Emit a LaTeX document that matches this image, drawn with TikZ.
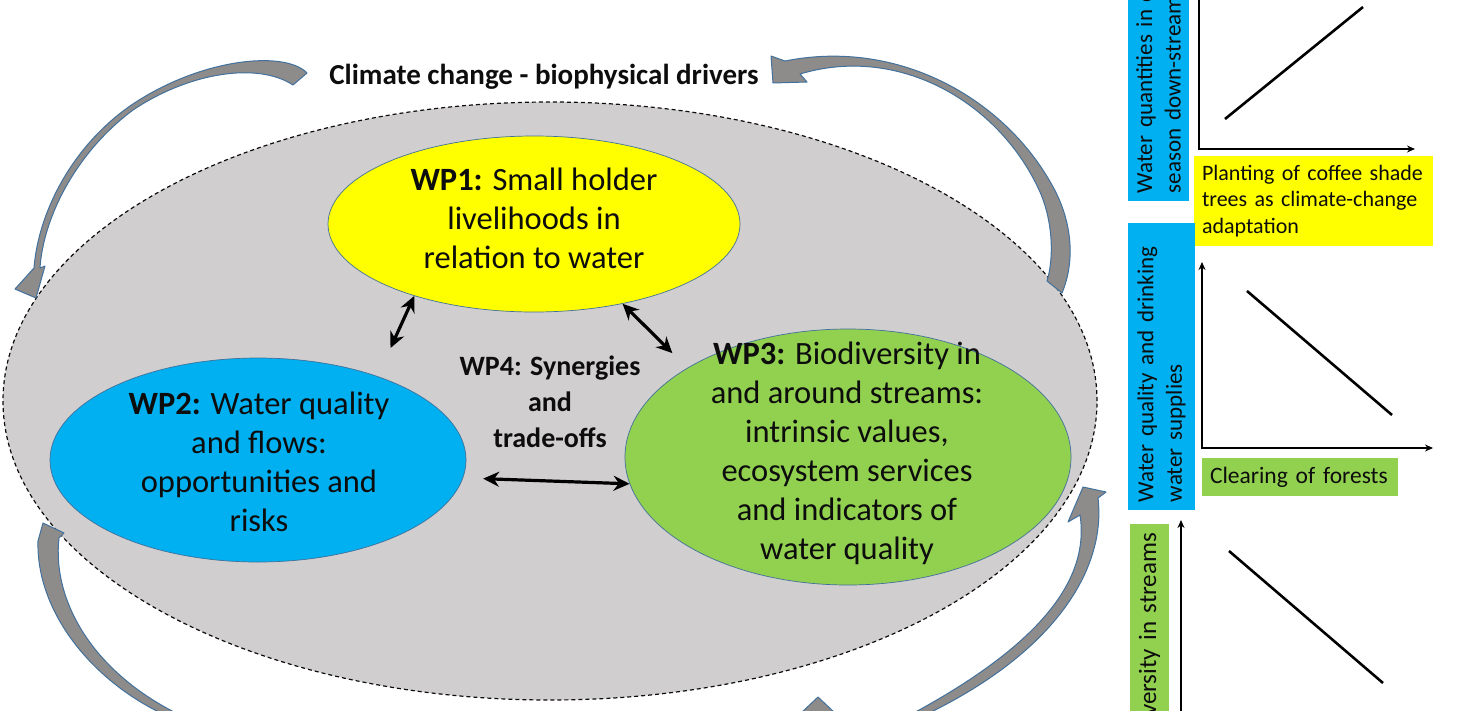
\documentclass[tikz,border=0pt]{standalone}
\usepackage{fontspec}
\setmainfont{Carlito}
\usetikzlibrary{arrows.meta, calc, shapes.geometric}
\definecolor{ovgray}{HTML}{D0CECE}
\definecolor{wpyellow}{HTML}{FFFF00}
\definecolor{wpblue}{HTML}{00B0F0}
\definecolor{wpgreen}{HTML}{92D050}
\definecolor{agray}{HTML}{8E8B8B}
\definecolor{edgeblue}{HTML}{41719C}
\definecolor{ink}{HTML}{0D0D0D}

\begin{document}
\begin{tikzpicture}[
  x=1pt, y=-1pt,
  >={Stealth[length=16pt, width=15pt]},
  wpell/.style={ellipse, draw=edgeblue, line width=0.7pt, inner sep=0pt},
  wptext/.style={align=center, inner sep=0pt, text=ink,
    font=\fontsize{32.5}{39}\selectfont},
  link/.style={<->, line width=3.2pt},
  garrow/.style={fill=agray, draw=edgeblue, line width=1pt, line join=round},
  axis/.style={line width=1.6pt},
  trend/.style={line width=2.6pt},
  vlabel/.style={rotate=90, align=left, inner xsep=8pt, inner ysep=0pt,
    text=ink, font=\fontsize{23}{28.5}\selectfont},
  tagbox/.style={align=left, inner xsep=8pt, inner ysep=0pt, text=ink}
]
\useasboundingbox (0,0) rectangle (1468,710);
\clip (0,0) rectangle (1468,710);

% Outer zone
\node[ellipse, draw=ink, dash pattern=on 4pt off 3pt, line width=1.2pt,
  fill=ovgray, minimum width=1094, minimum height=598] (zone) at (550,401) {};

% ── Work packages ──
\node[wpell, fill=wpyellow, minimum width=412, minimum height=176] (wp1) at (534,224) {};
\node[wpell, fill=wpblue, minimum width=416, minimum height=204] (wp2) at (258,460) {};
\node[wpell, fill=wpgreen, minimum width=446, minimum height=256] (wp3) at (848,457) {};

\node[wptext] (wp1txt) at (534,218) {\textbf{WP1:} Small holder\\livelihoods in\\relation to water};
\node[wptext] (wp2txt) at (259,462) {\textbf{WP2:} Water quality\\and flows:\\opportunities and\\risks};
\node[wptext] (wp3txt) at (847,453) {\textbf{WP3:} Biodiversity in\\and around streams:\\intrinsic values,\\ecosystem services\\and indicators of\\water quality};
\node[align=center, inner sep=0pt, text=ink, font=\fontsize{28}{36}\selectfont\bfseries]
  (wp4) at (550,402) {WP4: Synergies\\and\\trade-offs};

% ── Links between packages ──
\draw[link, shorten >=31pt] (wp1.211) -- (wp2.35);
\draw[link, shorten >=21pt] (wp1.-42) -- (wp3.151);
\draw[link, shorten <=20pt] (wp2.-5) -- (wp3.187);

% ── Drivers ──
\node[text=ink, font=\fontsize{29}{35}\selectfont\bfseries] (climate) at (544,77)
  {Climate change - biophysical drivers};

% ── Curved block arrows ──
\draw[garrow] (307,73) .. controls (285,50) and (200,58) .. (130,106)
  .. controls (70,148) and (38,215) .. (34,268) -- (15,289) -- (36,298)
  -- (45,266) -- (40,268) .. controls (43,220) and (74,154) .. (133,110)
  .. controls (190,72) and (258,62) .. (293,85) -- cycle;
\draw[garrow] (771,56) -- (773,83) -- (807,82) -- (800,74)
  .. controls (900,44) and (1000,103) .. (1040,192)
  .. controls (1053,222) and (1054,258) .. (1047,281) -- (1062,293)
  .. controls (1075,262) and (1073,222) .. (1052,185)
  .. controls (1005,100) and (900,38) .. (785,61) -- cycle;
\draw[garrow] (43,523) -- (64,533) -- (59,538)
  .. controls (52,600) and (92,672) .. (180,715) -- (165,715)
  .. controls (90,680) and (36,610) .. (38,541) -- cycle;
\draw[garrow] (1083,487) -- (1106,492) -- (1098,498)
  .. controls (1106,565) and (1060,650) .. (925,715) -- (910,715)
  .. controls (1040,645) and (1090,580) .. (1080,515) -- (1068,522) -- cycle;
\draw[garrow] (800,714) -- (818,697) -- (836,714);

% ── Graph 1: dry season flows ──
\node[vlabel, fill=wpblue, minimum width=261, minimum height=61, text width=245]
  (qtylab) at (1158.5,70.5) {Water quantities in dry\\season down-stream};
\draw[axis, -{Stealth[length=8pt, width=7pt]}] (1199,-10) -- (1199,149) -- (1415,149);
\draw[trend] (1225,119) -- (1363,7);
\node[tagbox, fill=wpyellow, minimum width=239, minimum height=90, text width=223,
  font=\fontsize{22}{26.5}\selectfont] (shadetag) at (1313.5,201)
  {Planting of coffee shade\\trees as climate-change\\adaptation};

% ── Graph 2: water quality ──
\node[vlabel, fill=wpblue, minimum width=287, minimum height=67, text width=271]
  (quallab) at (1161.5,366.5) {Water quality and drinking\\water supplies};
\draw[axis, {Stealth[length=8pt, width=7pt]}-{Stealth[length=8pt, width=7pt]}]
  (1202,262) -- (1202,448) -- (1433,448);
\draw[trend] (1247,291) -- (1392,415);
\node[tagbox, fill=wpgreen, minimum width=196, minimum height=38, text width=180,
  font=\fontsize{23.5}{28}\selectfont] (foresttag) at (1300,477) {Clearing of forests};

% ── Graph 3: biodiversity ──
\node[vlabel, align=right, fill=wpgreen, minimum width=256, minimum height=39, text width=238,
  inner xsep=9pt, font=\fontsize{25}{30}\selectfont] (biolab) at (1149.5,652)
  {Biodiversity in streams};
\draw[axis, {Stealth[length=8pt, width=7pt]}-] (1181,520) -- (1181,720);
\draw[trend] (1229,551) -- (1383,683);

\end{tikzpicture}
\end{document}
